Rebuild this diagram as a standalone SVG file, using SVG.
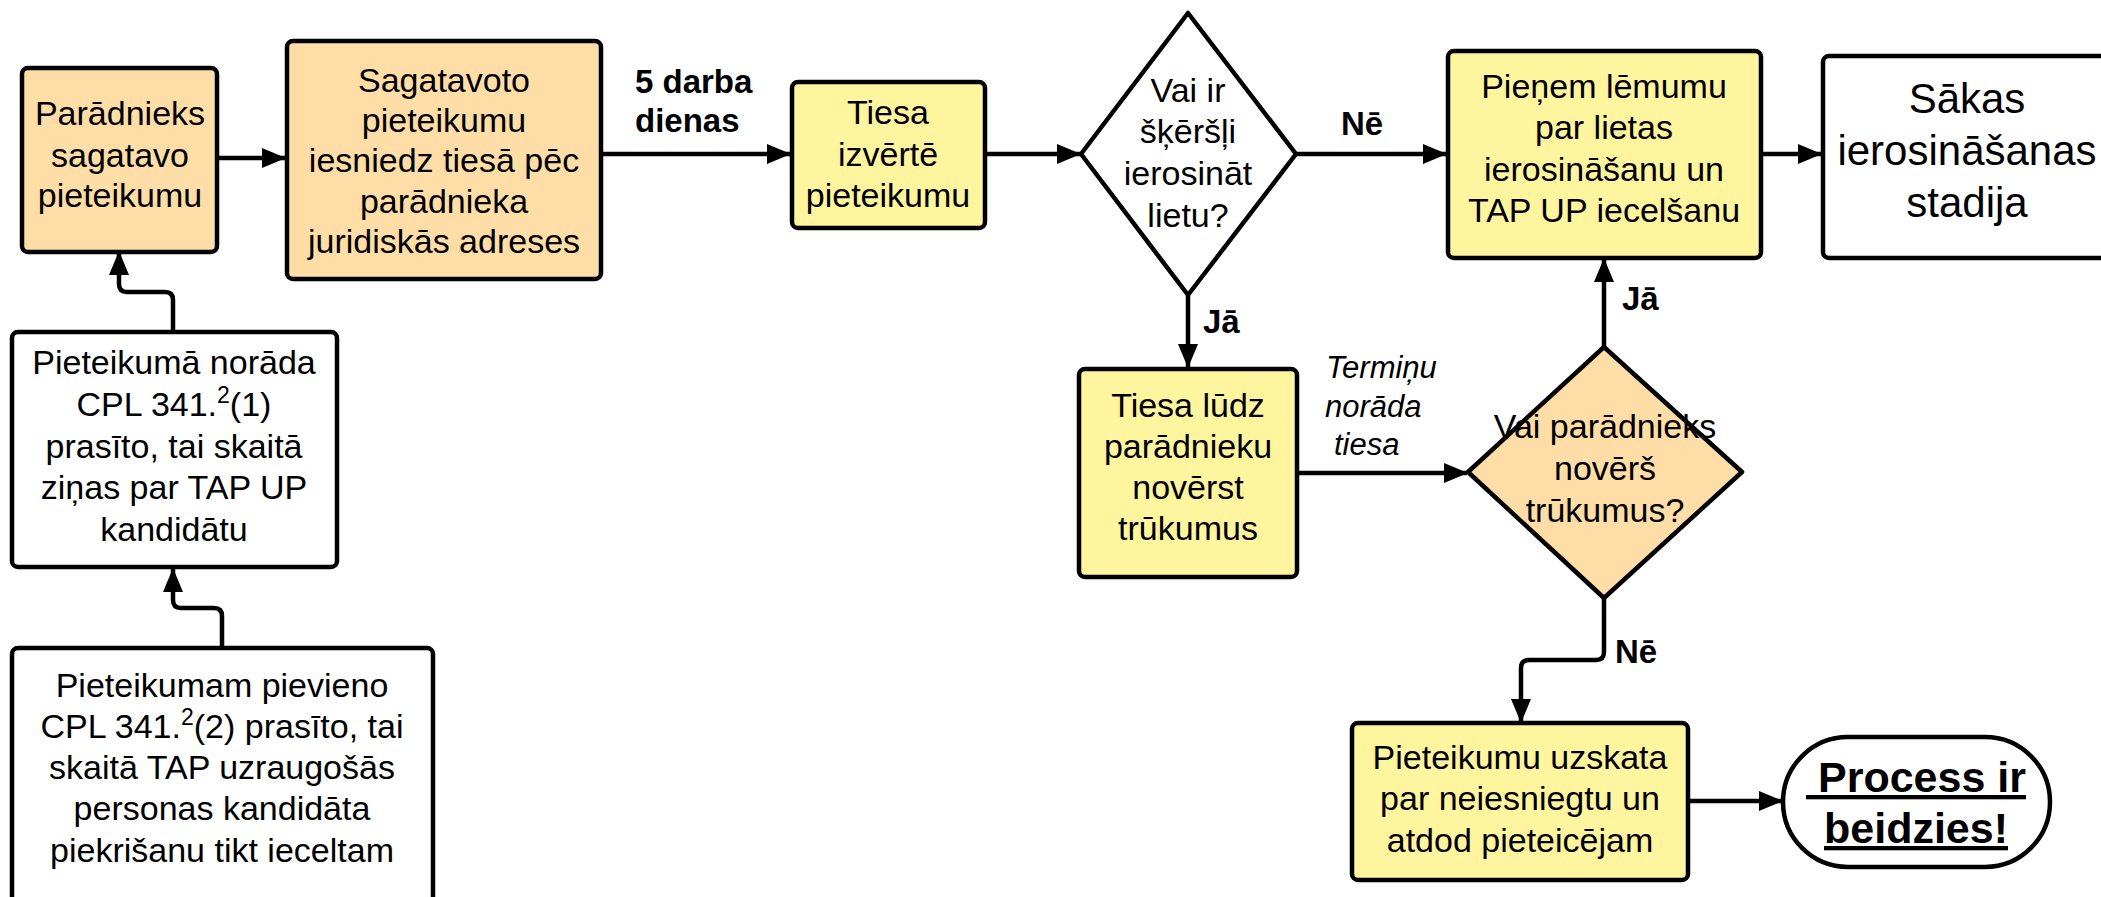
<svg xmlns="http://www.w3.org/2000/svg" width="2101" height="897" viewBox="0 0 2101 897">
<style>
  .box { stroke: #000; stroke-width: 4.5; }
  .org { fill: #FFDDA6; }
  .yel { fill: #FFF59F; }
  .wht { fill: #FFFFFF; }
  .t { font-family: "Liberation Sans", Arial, sans-serif; font-size: 34px; fill: #000; text-anchor: middle; }
  .big { font-size: 42px; }
  .lbl { font-family: "Liberation Sans", Arial, sans-serif; font-size: 33px; font-weight: bold; fill: #000; }
  .it { font-family: "Liberation Sans", Arial, sans-serif; font-size: 31px; font-style: italic; fill: #000; }
  .end { font-family: "Liberation Sans", Arial, sans-serif; font-size: 43px; font-weight: bold; text-decoration: underline; fill: #000; text-anchor: middle; }
  .con { fill: none; stroke: #000; stroke-width: 4.5; marker-end: url(#arr); }
</style>
<defs>
  <marker id="arr" markerUnits="userSpaceOnUse" viewBox="0 0 24 20" refX="23" refY="10" markerWidth="24" markerHeight="20" orient="auto">
    <path d="M0,0 L24,10 L0,20 z" fill="#000"/>
  </marker>
</defs>
<rect width="2101" height="897" fill="#fff"/>

<g id="connectors">
  <path class="con" d="M217,158 H285"/>
  <path class="con" d="M601,154 H790"/>
  <path class="con" d="M985,154 H1080"/>
  <path class="con" d="M1296,154 H1446"/>
  <path class="con" d="M1761,154 H1821"/>
  <path class="con" d="M1188,295 V367"/>
  <path class="con" d="M1297,473 H1467"/>
  <path class="con" d="M1604,347 V259"/>
  <path class="con" d="M1604,598 V652 Q1604,660 1596,660 H1529 Q1521,660 1521,668 V722"/>
  <path class="con" d="M1688,801 H1782"/>
  <path class="con" d="M173,332 V300 Q173,292 165,292 H127 Q119,292 119,284 V252"/>
  <path class="con" d="M222,648 V616 Q222,608 214,608 H181 Q173,608 173,600 V569"/>
  <text class="lbl" x="635" y="93">5 darba</text>
  <text class="lbl" x="635" y="132">dienas</text>
  <text class="lbl" x="1341" y="135">Nē</text>
  <text class="lbl" x="1203" y="333">Jā</text>
  <text class="lbl" x="1622" y="310">Jā</text>
  <text class="lbl" x="1615" y="663">Nē</text>
  <text class="it" x="1326" y="378">Termiņu</text>
  <text class="it" x="1325" y="417">norāda</text>
  <text class="it" x="1334" y="455">tiesa</text>
</g>

<g id="n1">
  <rect class="box org" x="22" y="68" width="195" height="184" rx="6"/>
  <text class="t" x="120" y="125">Parādnieks</text>
  <text class="t" x="120" y="167">sagatavo</text>
  <text class="t" x="120" y="207">pieteikumu</text>
</g>

<g id="n2">
  <rect class="box org" x="287" y="41" width="314" height="238" rx="6"/>
  <text class="t" x="444" y="92">Sagatavoto</text>
  <text class="t" x="444" y="132">pieteikumu</text>
  <text class="t" x="444" y="172">iesniedz tiesā pēc</text>
  <text class="t" x="444" y="213">parādnieka</text>
  <text class="t" x="444" y="253">juridiskās adreses</text>
</g>

<g id="n3">
  <rect class="box yel" x="792" y="82" width="193" height="146" rx="6"/>
  <text class="t" x="888" y="124">Tiesa</text>
  <text class="t" x="888" y="166">izvērtē</text>
  <text class="t" x="888" y="207">pieteikumu</text>
</g>

<g id="d1">
  <polygon class="box wht" points="1188,13 1296,154 1188,295 1081,154" stroke-linejoin="round"/>
  <text class="t" x="1188" y="102">Vai ir</text>
  <text class="t" x="1188" y="143">šķēršļi</text>
  <text class="t" x="1188" y="185">ierosināt</text>
  <text class="t" x="1188" y="227">lietu?</text>
</g>

<g id="n4">
  <rect class="box yel" x="1448" y="51" width="313" height="207" rx="6"/>
  <text class="t" x="1604" y="98">Pieņem lēmumu</text>
  <text class="t" x="1604" y="139">par lietas</text>
  <text class="t" x="1604" y="181">ierosināšanu un</text>
  <text class="t" x="1604" y="222">TAP UP iecelšanu</text>
</g>

<g id="n5">
  <rect class="box wht" x="1823" y="56" width="300" height="202" rx="6"/>
  <text class="t big" x="1967" y="113">Sākas</text>
  <text class="t big" x="1967" y="165">ierosināšanas</text>
  <text class="t big" x="1967" y="217">stadija</text>
</g>

<g id="n6">
  <rect class="box yel" x="1079" y="369" width="218" height="208" rx="6"/>
  <text class="t" x="1188" y="417">Tiesa lūdz</text>
  <text class="t" x="1188" y="458">parādnieku</text>
  <text class="t" x="1188" y="499">novērst</text>
  <text class="t" x="1188" y="540">trūkumus</text>
</g>

<g id="d2">
  <polygon class="box org" points="1604,347 1742,472 1604,598 1468,472" stroke-linejoin="round"/>
  <text class="t" x="1605" y="438">Vai parādnieks</text>
  <text class="t" x="1605" y="480">novērš</text>
  <text class="t" x="1605" y="522">trūkumus?</text>
</g>

<g id="n7">
  <rect class="box yel" x="1352" y="723" width="336" height="157" rx="6"/>
  <text class="t" x="1520" y="769">Pieteikumu uzskata</text>
  <text class="t" x="1520" y="810">par neiesniegtu un</text>
  <text class="t" x="1520" y="852">atdod pieteicējam</text>
</g>

<g id="n8">
  <rect class="box wht" x="1783" y="737" width="267" height="130" rx="65"/>
  <text class="end" x="1916" y="792" xml:space="preserve"> Process ir</text>
  <text class="end" x="1916" y="843">beidzies!</text>
</g>

<g id="n9">
  <rect class="box wht" x="12" y="332" width="325" height="235" rx="6"/>
  <text class="t" x="174" y="374">Pieteikumā norāda</text>
  <text class="t" x="174" y="416">CPL 341.<tspan dy="-13" font-size="23">2</tspan><tspan dy="13">(1)</tspan></text>
  <text class="t" x="174" y="458">prasīto, tai skaitā</text>
  <text class="t" x="174" y="499">ziņas par TAP UP</text>
  <text class="t" x="174" y="541">kandidātu</text>
</g>

<g id="n10">
  <rect class="box wht" x="12" y="648" width="421" height="270" rx="6"/>
  <text class="t" x="222" y="697">Pieteikumam pievieno</text>
  <text class="t" x="222" y="738">CPL 341.<tspan dy="-13" font-size="23">2</tspan><tspan dy="13">(2) prasīto, tai</tspan></text>
  <text class="t" x="222" y="779">skaitā TAP uzraugošās</text>
  <text class="t" x="222" y="820">personas kandidāta</text>
  <text class="t" x="222" y="862">piekrišanu tikt ieceltam</text>
</g>
</svg>
